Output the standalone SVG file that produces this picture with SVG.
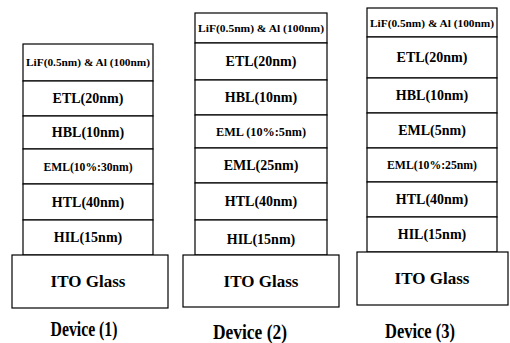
<svg xmlns="http://www.w3.org/2000/svg" width="510" height="343" viewBox="0 0 510 343">
<style>
rect{fill:#fff;stroke:#000;stroke-width:1.2}
text{font-family:'Liberation Serif','Times New Roman',Tinos,'DejaVu Serif',serif;font-weight:700;fill:#000;text-anchor:middle}
.l{font-size:14px}
.s{font-size:11px}
.m{font-size:12px}
.g{font-size:17px}
.d{font-size:20px}
</style>
<rect x="0" y="0" width="510" height="343" style="stroke:none"/>
<g id="device1">
<rect x="23" y="44" width="130" height="37"/><text class="s" x="88" y="66" textLength="124" lengthAdjust="spacingAndGlyphs">LiF(0.5nm) &amp; Al (100nm)</text>
<rect x="23" y="81" width="130" height="35"/><text class="l" x="88" y="103">ETL(20nm)</text>
<rect x="23" y="116" width="130" height="33"/><text class="l" x="88" y="137">HBL(10nm)</text>
<rect x="23" y="149" width="130" height="35"/><text class="m" x="88" y="171" textLength="89" lengthAdjust="spacingAndGlyphs">EML(10%:30nm)</text>
<rect x="23" y="184" width="130" height="36"/><text class="l" x="88" y="207">HTL(40nm)</text>
<rect x="23" y="220" width="130" height="35"/><text class="l" x="88" y="242">HIL(15nm)</text>
<rect x="12" y="255" width="156" height="53"/><text class="g" x="88" y="287">ITO Glass</text>
<text class="d" x="84" y="336" textLength="67" lengthAdjust="spacingAndGlyphs">Device (1)</text>
</g>
<g id="device2">
<rect x="195" y="13" width="132" height="30"/><text class="s" x="261" y="32" textLength="126" lengthAdjust="spacingAndGlyphs">LiF(0.5nm) &amp; Al (100nm)</text>
<rect x="195" y="43" width="132" height="37"/><text class="l" x="261" y="66">ETL(20nm)</text>
<rect x="195" y="80" width="132" height="35"/><text class="l" x="261" y="102">HBL(10nm)</text>
<rect x="195" y="115" width="132" height="33"/><text class="m" x="261" y="136" textLength="90" lengthAdjust="spacingAndGlyphs">EML (10%:5nm)</text>
<rect x="195" y="148" width="132" height="35"/><text class="l" x="261" y="170">EML(25nm)</text>
<rect x="195" y="183" width="132" height="37"/><text class="l" x="261" y="206">HTL(40nm)</text>
<rect x="195" y="220" width="132" height="35"/><text class="l" x="261" y="244">HIL(15nm)</text>
<rect x="183" y="255" width="156" height="52"/><text class="g" x="261" y="287">ITO Glass</text>
<text class="d" x="250" y="339" textLength="74" lengthAdjust="spacingAndGlyphs">Device (2)</text>
</g>
<g id="device3">
<rect x="367" y="8" width="130" height="29"/><text class="s" x="432" y="27" textLength="124" lengthAdjust="spacingAndGlyphs">LiF(0.5nm) &amp; Al (100nm)</text>
<rect x="367" y="37" width="130" height="41"/><text class="l" x="432" y="62">ETL(20nm)</text>
<rect x="367" y="78" width="130" height="35"/><text class="l" x="432" y="100">HBL(10nm)</text>
<rect x="367" y="113" width="130" height="35"/><text class="l" x="432" y="135">EML(5nm)</text>
<rect x="367" y="148" width="130" height="34"/><text class="m" x="432" y="169" textLength="90" lengthAdjust="spacingAndGlyphs">EML(10%:25nm)</text>
<rect x="367" y="182" width="130" height="35"/><text class="l" x="432" y="204">HTL(40nm)</text>
<rect x="367" y="217" width="130" height="35"/><text class="l" x="432" y="239">HIL(15nm)</text>
<rect x="357" y="252" width="151" height="53"/><text class="g" x="432" y="284">ITO Glass</text>
<text class="d" x="420" y="338" textLength="70" lengthAdjust="spacingAndGlyphs">Device (3)</text>
</g>
<g id="connectors"></g>
</svg>
